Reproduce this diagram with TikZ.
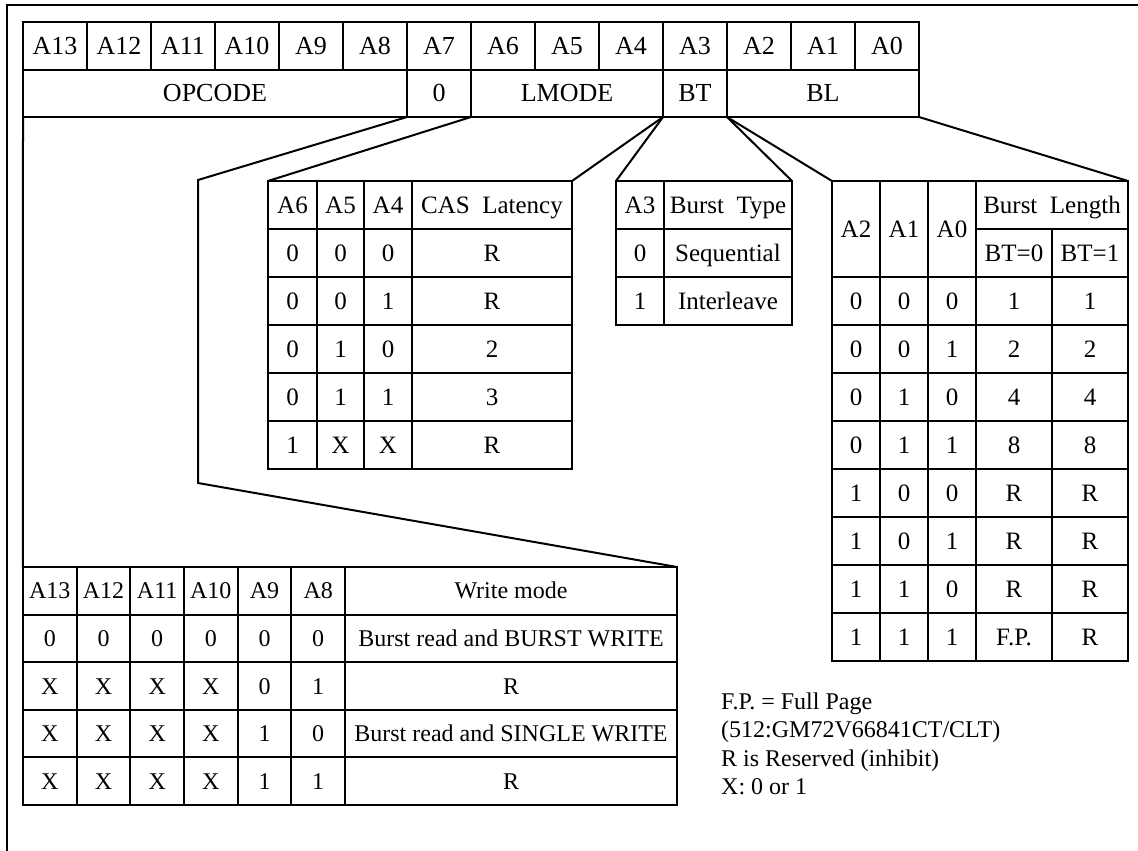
\documentclass[tikz,border=0pt]{standalone}
\usepackage{fontspec}
\setmainfont{Liberation Serif}
\newcommand\cellfont{\fontsize{24}{28}\selectfont}
\newcommand\tabfont{\fontsize{25}{29}\selectfont}
\newcommand\regfont{\fontsize{26}{30}\selectfont}
\begin{document}
\begin{tikzpicture}[x=1pt,y=-1pt,
  cell/.style={draw, line width=2pt, inner sep=0pt, outer sep=0pt, font=\cellfont, text height=16pt, text depth=0pt},
  tcell/.style={cell, font=\tabfont},
  rcell/.style={cell, font=\regfont, text height=17pt},
  br/.style={line width=2pt},
  note/.style={anchor=base west, inner sep=0pt, font=\cellfont}]
\useasboundingbox (0,0) rectangle (1138,851);
% outer frame
\draw[br] (1140,5) -- (7,5) -- (7,853);
% register row 1
\foreach \t [count=\k from 0] in {A13,A12,A11,A10,A9,A8,A7,A6,A5,A4,A3,A2,A1,A0}
  \node[rcell, minimum width=64pt, minimum height=48pt] (reg-\t) at ({55+64*\k},46) {\t};
% register row 2
\node[rcell, minimum width=384pt, minimum height=47pt] (opcode) at (215,93.5) {OPCODE};
\node[rcell, minimum width=64pt, minimum height=47pt] (zero) at (439,93.5) {0};
\node[rcell, minimum width=192pt, minimum height=47pt] (lmode) at (567,93.5) {LMODE};
\node[rcell, minimum width=64pt, minimum height=47pt] (bt) at (695,93.5) {BT};
\node[rcell, minimum width=192pt, minimum height=47pt] (bl) at (823,93.5) {BL};
% CAS latency table
\foreach \row [count=\r] in {{A6,A5,A4,{CAS\ \ Latency}},{0,0,0,R},{0,0,1,R},{0,1,0,2},{0,1,1,3},{1,X,X,R}} {
  \foreach \txt [count=\c] in \row {
    \pgfmathsetmacro\cx{{292.5,340.5,388,492}[\c-1]}
    \pgfmathsetmacro\cw{{49,47,48,160}[\c-1]}
    \node[tcell, minimum width=\cw pt, minimum height=48pt] (cas-\r-\c) at (\cx,{205+48*(\r-1)}) {\txt};
  }
}
% Burst type table
\foreach \row [count=\r] in {{A3,{Burst\ \ Type}},{0,Sequential},{1,Interleave}} {
  \foreach \txt [count=\c] in \row {
    \pgfmathsetmacro\cx{{640,728}[\c-1]}
    \pgfmathsetmacro\cw{{48,128}[\c-1]}
    \node[tcell, minimum width=\cw pt, minimum height=48pt] (btt-\r-\c) at (\cx,{205+48*(\r-1)}) {\txt};
  }
}
% Burst length table
\node[tcell, minimum width=48pt, minimum height=96pt] (blA2) at (856,229) {A2};
\node[tcell, minimum width=48pt, minimum height=96pt] (blA1) at (904,229) {A1};
\node[tcell, minimum width=48pt, minimum height=96pt] (blA0) at (952,229) {A0};
\node[tcell, minimum width=152pt, minimum height=48pt] (blLen) at (1052,205) {Burst\ \ Length};
\node[tcell, minimum width=76pt, minimum height=48pt] (blBT0) at (1014,253) {BT=0};
\node[tcell, minimum width=76pt, minimum height=48pt] (blBT1) at (1090,253) {BT=1};
\foreach \row [count=\r] in {{0,0,0,1,1},{0,0,1,2,2},{0,1,0,4,4},{0,1,1,8,8},{1,0,0,R,R},{1,0,1,R,R},{1,1,0,R,R},{1,1,1,F.P.,R}} {
  \foreach \txt [count=\c] in \row {
    \pgfmathsetmacro\cx{{856,904,952,1014,1090}[\c-1]}
    \pgfmathsetmacro\cw{{48,48,48,76,76}[\c-1]}
    \node[tcell, minimum width=\cw pt, minimum height=48pt] (bld-\r-\c) at (\cx,{301+48*(\r-1)}) {\txt};
  }
}
% Write mode table
\foreach \row [count=\r] in {{A13,A12,A11,A10,A9,A8,{Write mode}},{0,0,0,0,0,0,{Burst read and BURST WRITE}},{X,X,X,X,0,1,R},{X,X,X,X,1,0,{Burst read and SINGLE WRITE}},{X,X,X,X,1,1,R}} {
  \foreach \txt [count=\c] in \row {
    \pgfmathsetmacro\cx{{49.83,103.5,157.17,210.83,264.5,318.17,511}[\c-1]}
    \pgfmathsetmacro\cw{{53.67,53.67,53.67,53.67,53.67,53.67,332}[\c-1]}
    \node[cell, minimum width=\cw pt, minimum height=47.6pt] (wm-\r-\c) at (\cx,{590.8+47.6*(\r-1)}) {\txt};
  }
}
% brackets
\coordinate (ob1) at (198,180);
\coordinate (ob2) at (198,483);
\draw[br, line join=miter] (opcode.south east) -- (ob1) -- (ob2) -- (wm-1-7.north east);
\draw[br] (opcode.south west) -- (wm-1-1.north west);
\draw[br] (lmode.south west) -- (cas-1-1.north west);
\draw[br] (lmode.south east) -- (cas-1-4.north east);
\draw[br] (bt.south west) -- (btt-1-1.north west);
\draw[br] (bt.south east) -- (btt-1-2.north east);
\draw[br] (bl.south west) -- (blA2.north west);
\draw[br] (bl.south east) -- (blLen.north east);
% notes
\node[note] (n1) at (721,709) {F.P. = Full Page};
\node[note] (n2) at (721,737.5) {(512:GM72V66841CT/CLT)};
\node[note] (n3) at (721,766) {R is Reserved (inhibit)};
\node[note] (n4) at (721,794.5) {X: 0 or 1};
\end{tikzpicture}
\end{document}
